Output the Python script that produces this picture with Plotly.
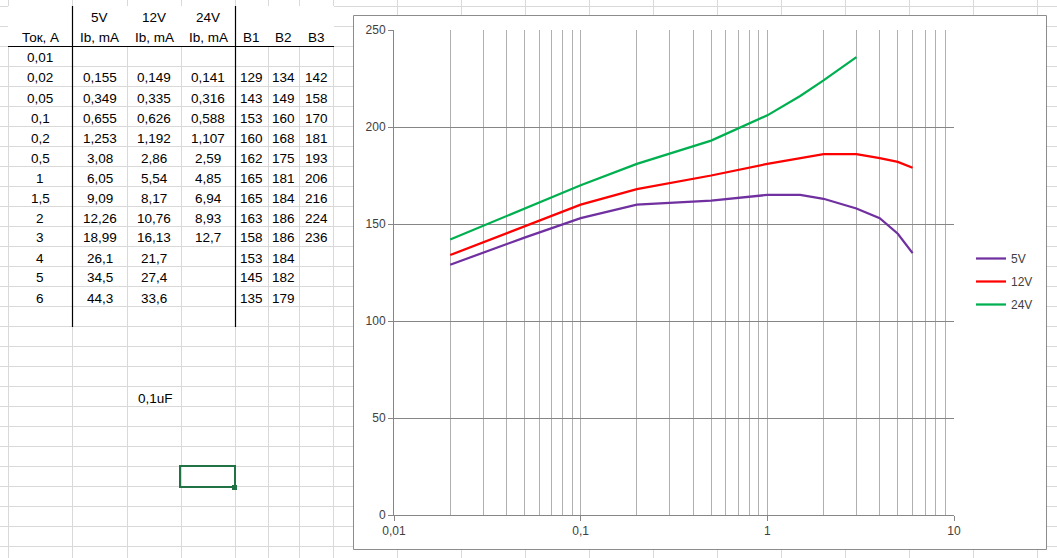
import plotly.graph_objects as go

# ---------------- data ----------------
current = [0.01, 0.02, 0.05, 0.1, 0.2, 0.5, 1, 1.5, 2, 3, 4, 5, 6]
ib_5v = [None, 0.155, 0.349, 0.655, 1.253, 3.08, 6.05, 9.09, 12.26, 18.99, 26.1, 34.5, 44.3]
ib_12v = [None, 0.149, 0.335, 0.626, 1.192, 2.86, 5.54, 8.17, 10.76, 16.13, 21.7, 27.4, 33.6]
ib_24v = [None, 0.141, 0.316, 0.588, 1.107, 2.59, 4.85, 6.94, 8.93, 12.7, None, None, None]
b1 = [None, 129, 143, 153, 160, 162, 165, 165, 163, 158, 153, 145, 135]
b2 = [None, 134, 149, 160, 168, 175, 181, 184, 186, 186, 184, 182, 179]
b3 = [None, 142, 158, 170, 181, 193, 206, 216, 224, 236, None, None, None]
series_names = ["5V", "12V", "24V"]
series_colors = ["#7030A0", "#FF0000", "#00B050"]
header_top = ["", "5V", "12V", "24V", "", "", ""]
header_bot = ["Ток, А", "Ib, mA", "Ib, mA", "Ib, mA", "B1", "B2", "B3"]
x_tickvals = [0.01, 0.1, 1, 10]
x_ticktext = ["0,01", "0,1", "1", "10"]
note_text = "0,1uF"

W, H = 1057, 558
FONT = "Liberation Sans"


def px(x):
    return x / W


def py(y):
    return 1 - y / H


def fmt(v):
    if v is None:
        return ""
    return f"{v:g}".replace(".", ",")


shapes = []
annotations = []

# ---- spreadsheet gridlines ----
col_bounds = [8, 72, 127, 181, 235, 268, 299, 333] + [333 + 64 * k for k in range(1, 12)]
row_bounds = [6 + 20 * k for k in range(0, 28)]
GRID = "#d9d9d9"
for cx in col_bounds:
    shapes.append(dict(type="line", xref="paper", yref="paper", x0=px(cx + 0.5), x1=px(cx + 0.5),
                       y0=py(0), y1=py(H), line=dict(color=GRID, width=1), layer="below"))
for ry in row_bounds:
    shapes.append(dict(type="line", xref="paper", yref="paper", x0=px(0), x1=px(W),
                       y0=py(ry + 0.5), y1=py(ry + 0.5), line=dict(color=GRID, width=1), layer="below"))

# header white fill
shapes.append(dict(type="rect", xref="paper", yref="paper", x0=px(8), x1=px(334), y0=py(6), y1=py(46),
                   fillcolor="white", line=dict(width=0), layer="below"))
# black borders
shapes.append(dict(type="line", xref="paper", yref="paper", x0=px(8), x1=px(334), y0=py(46.5), y1=py(46.5),
                   line=dict(color="black", width=1.2), layer="below"))
for cx in (72, 235):
    shapes.append(dict(type="line", xref="paper", yref="paper", x0=px(cx + 0.5), x1=px(cx + 0.5),
                       y0=py(6), y1=py(327), line=dict(color="black", width=1.2), layer="below"))

# selected cell
shapes.append(dict(type="rect", xref="paper", yref="paper", x0=px(180), x1=px(235), y0=py(466), y1=py(487),
                   fillcolor="rgba(0,0,0,0)", line=dict(color="#217346", width=2), layer="below"))
shapes.append(dict(type="rect", xref="paper", yref="paper", x0=px(232), x1=px(237), y0=py(485), y1=py(490),
                   fillcolor="#217346", line=dict(width=0), layer="below"))

# chart area
shapes.append(dict(type="rect", xref="paper", yref="paper", x0=px(353.5), x1=px(1046.5), y0=py(15.5), y1=py(549.5),
                   fillcolor="white", line=dict(color="#8c8c8c", width=1), layer="below"))

# ---- table text ----
col_centers = [(col_bounds[i] + col_bounds[i + 1]) / 2 for i in range(7)]
tfont = dict(family=FONT, size=13.5, color="black")
for i in range(7):
    if header_top[i]:
        annotations.append(dict(x=px(col_centers[i]), y=py(18), xref="paper", yref="paper", text=header_top[i],
                                showarrow=False, font=tfont, xanchor="center", yanchor="middle"))
    annotations.append(dict(x=px(col_centers[i]), y=py(38), xref="paper", yref="paper", text=header_bot[i],
                            showarrow=False, font=tfont, xanchor="center", yanchor="middle"))
columns = [current, ib_5v, ib_12v, ib_24v, b1, b2, b3]
for r in range(len(current)):
    yc = 58 + 20 * r
    for c, col in enumerate(columns):
        t = fmt(col[r])
        if t:
            annotations.append(dict(x=px(col_centers[c]), y=py(yc), xref="paper", yref="paper", text=t,
                                    showarrow=False, font=tfont, xanchor="center", yanchor="middle"))
annotations.append(dict(x=px(136), y=py(398), xref="paper", yref="paper", text=note_text, showarrow=False,
                        font=tfont, xanchor="left", yanchor="middle"))

# ---- chart ----
fig = go.Figure()
for name, ys, col in zip(series_names, [b1, b2, b3], series_colors):
    fig.add_trace(go.Scatter(x=current, y=ys, mode="lines", name=name, legendgroup=name,
                             line=dict(color=col, width=2.25)))

minor_vals = [m * 10 ** e for e in (-2, -1, 0) for m in range(2, 10)]

fig.update_layout(
    width=W, height=H, autosize=False,
    margin=dict(l=0, r=0, t=0, b=0, pad=0, autoexpand=False),
    paper_bgcolor="white",
    plot_bgcolor="white",
    shapes=shapes,
    annotations=annotations,
    font=dict(family=FONT, size=12, color="#404040"),
    showlegend=True,
    legend=dict(x=px(971), y=py(244), xanchor="left", yanchor="top", bgcolor="rgba(0,0,0,0)",
                font=dict(family=FONT, size=12, color="#404040"), tracegroupgap=4, traceorder="grouped"),
    xaxis=dict(type="log", domain=[px(394), px(954)], range=[-2, 1], automargin=False,
               tickvals=x_tickvals, ticktext=x_ticktext, showgrid=True, gridcolor="#b0b0b0", gridwidth=1,
               showline=True, linecolor="#868686", linewidth=1, ticks="outside", ticklen=5,
               tickcolor="#868686", tickfont=dict(family=FONT, size=12, color="#404040"),
               zeroline=False, mirror=False,
               minor=dict(tickvals=minor_vals, showgrid=True, gridcolor="#b0b0b0", gridwidth=1, ticks="")),
    yaxis=dict(domain=[py(515), py(30)], range=[0, 250], tickvals=[0, 50, 100, 150, 200, 250],
               automargin=False,
               showgrid=True, gridcolor="#868686", gridwidth=1, showline=True, linecolor="#868686",
               linewidth=1, ticks="outside", ticklen=5, tickcolor="#868686",
               tickfont=dict(family=FONT, size=12, color="#404040"), zeroline=False),
)

fig.write_html("out.html", config={"displayModeBar": False},
               post_script="document.body.style.margin='0';document.body.style.padding='0';"
                           "document.documentElement.style.overflow='hidden';")
